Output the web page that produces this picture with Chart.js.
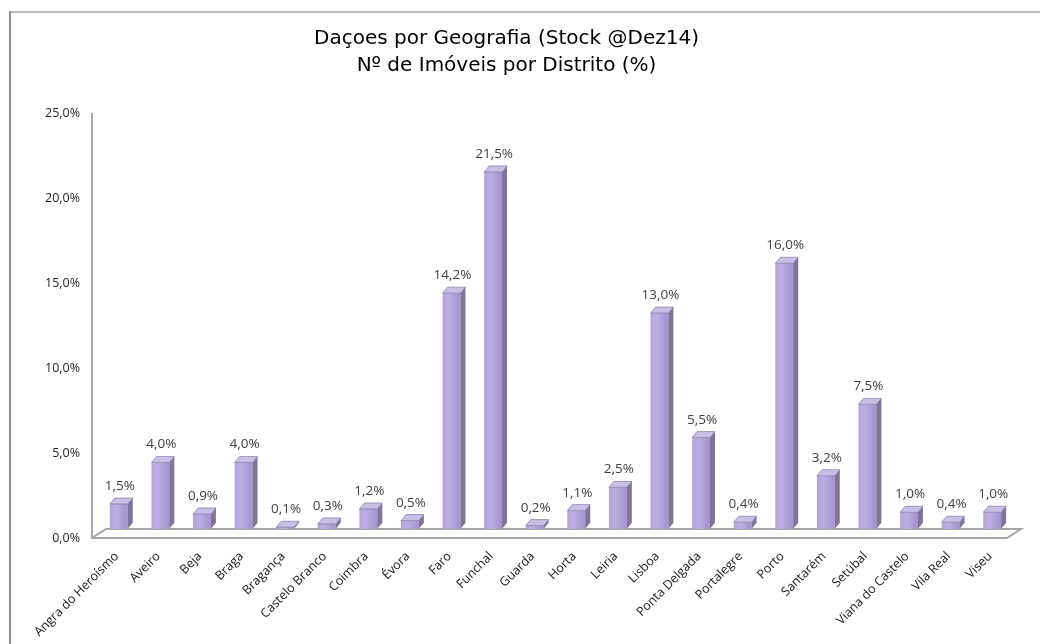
<!DOCTYPE html>
<html>
<head>
<meta charset="utf-8">
<script src="https://cdn.jsdelivr.net/npm/chart.js@4/dist/chart.umd.min.js"></script>
<style>
  html, body { margin: 0; padding: 0; background: #fff; }
  #wrap { width: 1040px; height: 644px; position: relative; }
</style>
</head>
<body>
<div id="wrap"><canvas id="c" width="1040" height="644"></canvas></div>
<script>
// Distritos e percentagem de imóveis (Stock Dez14)
const distritos = [
  'Angra do Heroísmo', 'Aveiro', 'Beja', 'Braga', 'Bragança', 'Castelo Branco',
  'Coimbra', 'Évora', 'Faro', 'Funchal', 'Guarda', 'Horta', 'Leiria', 'Lisboa',
  'Ponta Delgada', 'Portalegre', 'Porto', 'Santarém', 'Setúbal',
  'Viana do Castelo', 'Vila Real', 'Viseu'
];
const percentagens = [
  1.5, 4.0, 0.9, 4.0, 0.1, 0.3, 1.2, 0.5, 14.2, 21.5, 0.2, 1.1, 2.5, 13.0,
  5.5, 0.4, 16.0, 3.2, 7.5, 1.0, 0.4, 1.0
];
const tituloLinhas = ['Daçoes por Geografia (Stock @Dez14)', 'Nº de Imóveis por Distrito (%)'];
const eixoMin = 0, eixoMax = 25, eixoPasso = 5;

const fmtPct = v => v.toFixed(1).replace('.', ',') + '%';

// depth of the 3D floor and of each column
const FLOOR_DX = 14, FLOOR_DY = 9, FLOOR_SHIFT = 6;
const COL_DX = 5, COL_DY = 6;

const frame = {
  id: 'frame',
  beforeDraw(chart) {
    const ctx = chart.ctx;
    ctx.save();
    ctx.fillStyle = '#fff';
    ctx.fillRect(0, 0, chart.width, chart.height);
    ctx.lineWidth = 2;
    ctx.strokeStyle = '#b8b8b8';
    ctx.beginPath(); ctx.moveTo(10, 12); ctx.lineTo(chart.width, 12); ctx.stroke();
    ctx.strokeStyle = '#8e8e8e';
    ctx.beginPath(); ctx.moveTo(10, 11); ctx.lineTo(10, chart.height); ctx.stroke();
    ctx.restore();
  }
};

const floor3d = {
  id: 'floor3d',
  beforeDatasetsDraw(chart) {
    const ctx = chart.ctx, a = chart.chartArea, y = chart.scales.y;
    const y0 = y.getPixelForValue(eixoMin), yTop = y.getPixelForValue(eixoMax);
    const xl = a.left - FLOOR_SHIFT, xr = a.right - FLOOR_SHIFT;
    ctx.save();
    ctx.strokeStyle = '#a6a6a6';
    ctx.lineWidth = 2;
    ctx.beginPath();
    ctx.moveTo(xl, yTop); ctx.lineTo(xl, y0); ctx.lineTo(xr, y0);
    ctx.lineTo(xr + FLOOR_DX, y0 - FLOOR_DY); ctx.lineTo(xl + FLOOR_DX, y0 - FLOOR_DY);
    ctx.lineTo(xl, y0);
    ctx.stroke();
    ctx.restore();
  }
};

const columns3d = {
  id: 'columns3d',
  afterDatasetsDraw(chart) {
    const ctx = chart.ctx;
    const meta = chart.getDatasetMeta(0);
    ctx.save();
    meta.data.forEach((bar, i) => {
      const { x, y, width, base } = bar.getProps(['x', 'y', 'width', 'base'], true);
      const l = x - width / 2, r = x + width / 2;
      // front face
      const g = ctx.createLinearGradient(l, 0, r, 0);
      g.addColorStop(0, '#b3a3d9');
      g.addColorStop(0.35, '#bcaee3');
      g.addColorStop(1, '#a391cf');
      ctx.fillStyle = g;
      ctx.fillRect(l, y, width, base - y);
      // side face
      ctx.fillStyle = '#7f7499';
      ctx.beginPath();
      ctx.moveTo(r, y); ctx.lineTo(r + COL_DX, y - COL_DY);
      ctx.lineTo(r + COL_DX, base - COL_DY); ctx.lineTo(r, base);
      ctx.closePath(); ctx.fill();
      // top face
      ctx.fillStyle = '#c9bfe6';
      ctx.beginPath();
      ctx.moveTo(l, y); ctx.lineTo(r, y);
      ctx.lineTo(r + COL_DX, y - COL_DY); ctx.lineTo(l + COL_DX, y - COL_DY);
      ctx.closePath(); ctx.fill();
      ctx.strokeStyle = 'rgba(110,100,140,0.55)';
      ctx.lineWidth = 1;
      ctx.stroke();
      // value label
      ctx.fillStyle = '#404040';
      ctx.font = '13.5px "Open Sans"';
      ctx.textAlign = 'center';
      ctx.textBaseline = 'alphabetic';
      ctx.fillText(fmtPct(percentagens[i]), x + 1, y - COL_DY - 8);
    });
    ctx.restore();
  }
};

new Chart(document.getElementById('c'), {
  type: 'bar',
  data: {
    labels: distritos,
    datasets: [{
      data: percentagens,
      yAxisID: 'yBar',
      backgroundColor: 'rgba(0,0,0,0)',
      borderWidth: 0,
      categoryPercentage: 1,
      barPercentage: 0.43
    }]
  },
  options: {
    responsive: false,
    animation: false,
    events: [],
    layout: { padding: { top: 0, right: 27, bottom: 0, left: 0 } },
    plugins: {
      legend: { display: false },
      tooltip: { enabled: false },
      title: {
        display: true,
        text: tituloLinhas,
        color: '#000',
        font: { family: 'DejaVu Sans', size: 20, weight: 'normal', lineHeight: 1.35 },
        padding: { top: 25, bottom: 34 }
      }
    },
    scales: {
      x: {
        grid: { display: false, drawTicks: false },
        border: { display: false },
        ticks: {
          minRotation: 45, maxRotation: 45, autoSkip: false,
          color: '#1a1a1a', font: { family: 'Open Sans', size: 12.5 },
          padding: 11, labelOffset: -2
        },
        afterFit(s) { s.height = 106; }
      },
      y: {
        min: eixoMin, max: eixoMax,
        grid: { display: false, drawTicks: false },
        border: { display: false },
        ticks: {
          stepSize: eixoPasso, color: '#262626',
          font: { family: 'Open Sans', size: 12.5 },
          padding: 18,
          callback: v => fmtPct(v)
        },
        afterFit(s) { s.width = 98; }
      },
      yBar: {
        display: false,
        min: -0.55, max: 25.05
      }
    }
  },
  plugins: [frame, floor3d, columns3d]
});
</script>
</body>
</html>
